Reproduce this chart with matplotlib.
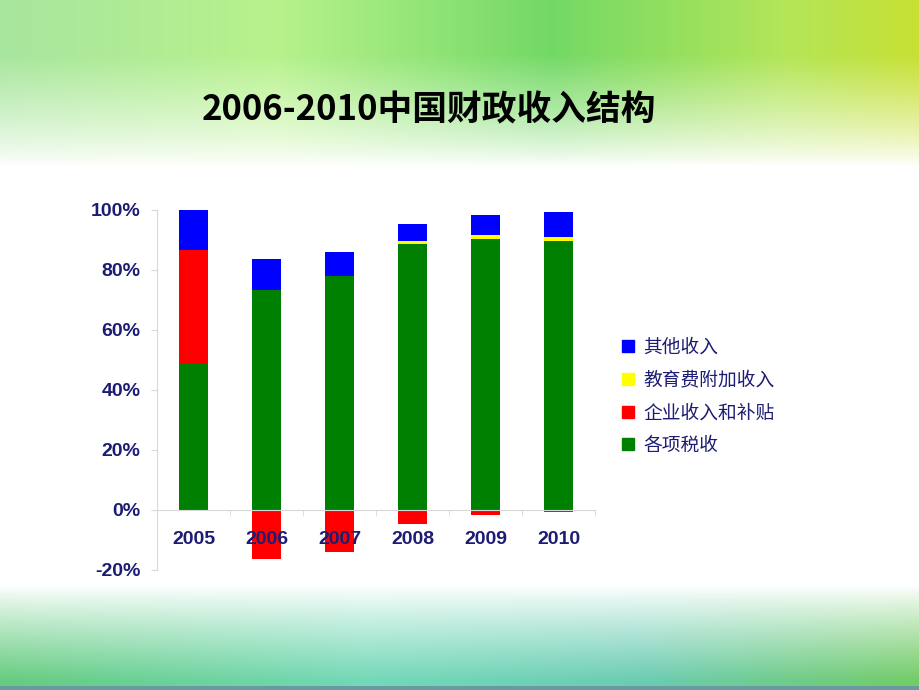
import numpy as np
import matplotlib
matplotlib.use('Agg')
from matplotlib import pyplot as plt
from matplotlib.lines import Line2D
from matplotlib.ticker import PercentFormatter

plt.rcParams['axes.unicode_minus'] = False

years = ['2005', '2006', '2007', '2008', '2009', '2010']
tax = [49.1, 73.3, 78.1, 88.6, 90.4, 89.8]          # 各项税收
enterprise = [37.6, -16.3, -14.0, -4.8, -1.8, -0.6]  # 企业收入和补贴
education = [0.0, 0.0, 0.0, 1.2, 1.3, 1.2]          # 教育费附加收入
other = [13.3, 10.4, 8.0, 5.4, 6.6, 8.4]            # 其他收入

navy = '#1c1c74'
cols = {'tax': '#008000', 'ent': '#ff0000', 'edu': '#ffff00', 'oth': '#0000ff'}

fig = plt.figure(figsize=(9.2, 6.9), dpi=100)

# background: green gradient at top and bottom
H, W = 690, 920
xx = np.linspace(0, 1, W)
top = np.stack([np.interp(xx, [0, 0.3, 0.6, 0.85, 1], [0.66, 0.72, 0.45, 0.70, 0.78]),
                np.interp(xx, [0, 0.3, 0.6, 0.85, 1], [0.90, 0.95, 0.85, 0.90, 0.88]),
                np.interp(xx, [0, 0.3, 0.6, 0.85, 1], [0.62, 0.55, 0.40, 0.35, 0.20])], axis=1)
bot = np.stack([np.interp(xx, [0, 0.4, 0.7, 1], [0.40, 0.45, 0.42, 0.45]),
                np.interp(xx, [0, 0.4, 0.7, 1], [0.80, 0.85, 0.80, 0.80]),
                np.interp(xx, [0, 0.4, 0.7, 1], [0.50, 0.72, 0.70, 0.40])], axis=1)
yy = np.arange(H)[:, None, None]
a_top = np.clip((165 - yy) / 110.0, 0, 1) ** 0.8
a_bot = np.clip((yy - 585) / 95.0, 0, 1) ** 0.9
img = np.ones((H, W, 3))
img = img * (1 - a_top) + top[None, :, :] * a_top
img = img * (1 - a_bot) + bot[None, :, :] * a_bot
img[686:, :, :] = [0.42, 0.60, 0.63]
bg = fig.add_axes([0, 0, 1, 1], zorder=-10)
bg.imshow(img, aspect='auto', extent=[0, 1, 0, 1])
bg.axis('off')

fig.text(0.466, 0.84, '2006-2010中国财政收入结构', ha='center', va='center',
         fontsize=25, fontweight='bold', color='black',
         family=['Liberation Sans Narrow', 'Noto Sans CJK SC'])

ax = fig.add_axes([157 / 920, 120 / 690, 438 / 920, 360 / 690])
ax.patch.set_alpha(0)
x = np.arange(len(years))
w = 0.4
tax = np.array(tax)
edu = np.array(education)
ax.bar(x, tax, w, color=cols['tax'])
ax.bar(x, enterprise, w, bottom=np.where(np.array(enterprise) > 0, tax, 0), color=cols['ent'])
pos_ent = np.clip(enterprise, 0, None)
ax.bar(x, edu, w, bottom=tax + pos_ent, color=cols['edu'])
ax.bar(x, other, w, bottom=tax + pos_ent + edu, color=cols['oth'])

ax.set_xlim(-0.5, 5.5)
ax.set_ylim(-20, 100)
ax.set_yticks(np.arange(-20, 101, 20))
ax.yaxis.set_major_formatter(PercentFormatter(decimals=0))
for s in ['top', 'right']:
    ax.spines[s].set_visible(False)
ax.spines['left'].set_color('#d8d8d8')
ax.spines['bottom'].set_position(('data', 0))
ax.spines['bottom'].set_color('#d8d8d8')
ax.set_xticks(x)
ax.set_xticklabels(years)
ax.set_xticks(np.arange(-0.5, 6, 1), minor=True)
ax.tick_params(axis='x', which='major', length=0, pad=15)
ax.tick_params(axis='x', which='minor', length=4, color='#d8d8d8', direction='out')
ax.tick_params(axis='y', length=4, color='#d8d8d8', pad=8)
for lab in ax.get_xticklabels() + ax.get_yticklabels():
    lab.set_fontsize(14)
    lab.set_fontweight('bold')
    lab.set_color(navy)
    lab.set_family('Liberation Sans')

handles = [Line2D([], [], marker='s', ls='', color=cols[k], markersize=8)
           for k in ['oth', 'edu', 'ent', 'tax']]
labels = ['其他收入', '教育费附加收入', '企业收入和补贴', '各项税收']
leg = ax.legend(handles, labels, loc='upper left', bbox_to_anchor=(604 / 920, 1 - 320 / 690),
                bbox_transform=fig.transFigure, frameon=False, handlelength=0.8,
                handletextpad=0.4, labelspacing=0.62,
                prop={'family': 'Noto Sans CJK SC', 'size': 13.5})
for t in leg.get_texts():
    t.set_color(navy)

plt.savefig('out.png', dpi=100)
